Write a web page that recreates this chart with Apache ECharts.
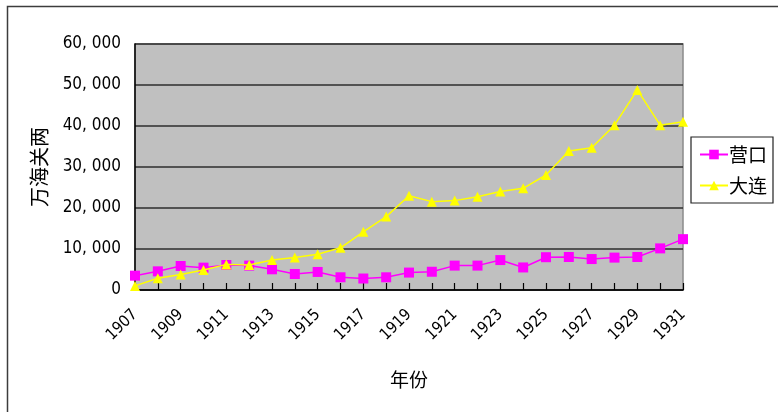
<!DOCTYPE html>
<html>
<head>
<meta charset="utf-8">
<script src="https://cdn.jsdelivr.net/npm/echarts@6/dist/echarts.min.js"></script>
<style>
  html, body { margin: 0; padding: 0; background: #ffffff; }
  #chart { width: 778px; height: 412px; }
</style>
</head>
<body>
<div id="chart"></div>
<script>
// Annual trade values (万海关两), 1907–1931
const years = ['1907','1908','1909','1910','1911','1912','1913','1914','1915','1916','1917','1918','1919',
               '1920','1921','1922','1923','1924','1925','1926','1927','1928','1929','1930','1931'];
const yingkou = [3500, 4550, 5850, 5450, 6100, 5950, 5050, 3900, 4400, 3100, 2800, 3100, 4250,
                 4450, 5950, 5950, 7300, 5500, 8000, 8050, 7550, 7900, 8050, 10150, 12400];
const dalian  = [1000, 2850, 3800, 4900, 6250, 6100, 7300, 7900, 8700, 10300, 14200, 17900, 23000,
                 21550, 21800, 22750, 24000, 24800, 28050, 33900, 34700, 40200, 48800, 40200, 41050];
const yTicks = [0, 10000, 20000, 30000, 40000, 50000, 60000];

const chart = echarts.init(document.getElementById('chart'), null, { renderer: 'canvas' });
const cjk = '"Noto Sans CJK SC", sans-serif';
const digits = '"DejaVu Sans Condensed", "DejaVu Sans", sans-serif';

chart.setOption({
  animation: false,
  backgroundColor: '#ffffff',
  graphic: [{
    type: 'rect',
    shape: { x: 7.5, y: 6.5, width: 800, height: 420 },
    style: { fill: 'none', stroke: '#3c3c3c', lineWidth: 1.5 },
    silent: true
  }],
  grid: {
    left: 135, right: 95, top: 44, bottom: 122,
    show: true,
    backgroundColor: '#c0c0c0',
    borderColor: '#8a8a8a',
    borderWidth: 1.5
  },
  legend: {
    orient: 'vertical',
    left: 691, top: 137,
    width: 86,
    padding: [8, 6, 8, 8],
    itemWidth: 28, itemHeight: 12,
    itemGap: 12,
    borderColor: '#222',
    borderWidth: 1.2,
    backgroundColor: '#ffffff',
    textStyle: { fontFamily: cjk, fontSize: 19, color: '#000', padding: [0, 0, 0, -4] },
    data: ['营口', '大连']
  },
  xAxis: {
    type: 'category',
    data: years,
    boundaryGap: false,
    name: '年份',
    nameLocation: 'middle',
    nameGap: 80,
    nameTextStyle: { fontFamily: cjk, fontSize: 19, color: '#000' },
    axisLine: { lineStyle: { color: '#000', width: 1.5 } },
    axisTick: { show: true, inside: true, length: 7, interval: 0, lineStyle: { color: '#000', width: 1.2 } },
    axisLabel: {
      interval: 1,
      rotate: 45,
      margin: 22,
      fontFamily: digits,
      fontSize: 16,
      color: '#000'
    },
    splitLine: { show: false }
  },
  yAxis: {
    type: 'value',
    min: yTicks[0],
    max: yTicks[yTicks.length - 1],
    interval: yTicks[1] - yTicks[0],
    name: '万海关两',
    nameLocation: 'middle',
    nameRotate: 90,
    nameGap: 86,
    nameTextStyle: { fontFamily: cjk, fontSize: 20, color: '#000' },
    axisLine: { show: true, lineStyle: { color: '#000', width: 1.5 } },
    axisTick: { show: false },
    axisLabel: {
      margin: 14,
      fontFamily: digits,
      fontSize: 17,
      color: '#000',
      formatter: v => v.toLocaleString('en-US').replace(',', ', ')
    },
    splitLine: { show: true, lineStyle: { color: '#2e2e2e', width: 1.5 } }
  },
  series: [
    {
      name: '营口',
      type: 'line',
      data: yingkou,
      symbol: 'rect',
      symbolSize: 10,
      itemStyle: { color: '#ff00ff' },
      lineStyle: { color: '#ff00ff', width: 1.5 },
      z: 3
    },
    {
      name: '大连',
      type: 'line',
      data: dalian,
      symbol: 'triangle',
      symbolSize: 10,
      itemStyle: { color: '#ffff00' },
      lineStyle: { color: '#ffff00', width: 1.5 },
      z: 4
    }
  ]
});
</script>
</body>
</html>
